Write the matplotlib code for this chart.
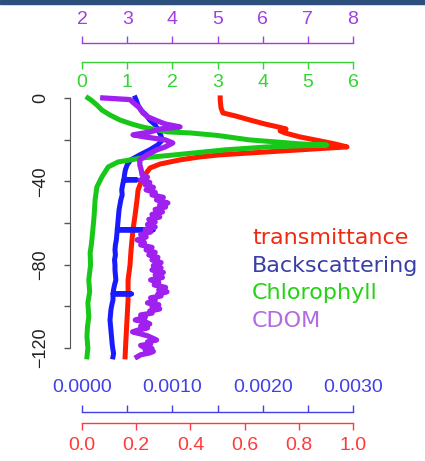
import numpy as np
import matplotlib
matplotlib.use('Agg')
from matplotlib import pyplot as plt
from matplotlib.patches import Rectangle

# profiles, depth in m (negative = down)
depth_trans = [0, -1.0, -4.8, -7.2, -8.6, -10.6, -12.5, -13.9, -14.9, -15.8, -16.8, -18.7,
               -20.6, -22.1, -23.5, -24.9, -26.4, -27.3, -28.3, -29.7, -31.7, -33.6, -36.9,
               -39.3, -44.1, -48.9, -56.1, -63.3, -72.9, -80.4, -87.3, -96.9, -106.5, -116.1, -124.2]
transmittance = [0.51, 0.51, 0.513, 0.52, 0.565, 0.62, 0.675, 0.723, 0.753, 0.731, 0.749, 0.804,
                 0.878, 0.934, 0.978, 0.804, 0.62, 0.509, 0.435, 0.362, 0.288, 0.251, 0.232,
                 0.221, 0.207, 0.203, 0.196, 0.188, 0.181, 0.177, 0.17, 0.17, 0.166, 0.162, 0.159]

depth_bb = [0, -1.0, -3.4, -5.8, -8.2, -10.6, -12.9, -15.3, -17.7, -20.1, -22.5, -24.9, -27.3,
            -29.7, -32.1, -34.5, -36.9, -39.0, -39.3, -39.6, -41.7, -44.1, -46.5, -48.9, -51.3,
            -53.7, -56.1, -58.5, -61.0, -63.1, -63.3, -63.5, -65.7, -68.1, -70.5, -72.9, -75.3,
            -77.7, -80.1, -82.5, -84.9, -87.3, -89.7, -91.8, -93.8, -94.0, -94.2, -96.9, -99.3,
            -101.7, -104.1, -106.5, -108.9, -111.3, -113.7, -116.1, -118.5, -120.9, -122.5, -124.2]
bb_e3 = [0.59, 0.60, 0.62, 0.65, 0.71, 0.75, 0.81, 0.84, 0.87, 0.89, 0.84, 0.75, 0.64,
         0.54, 0.50, 0.48, 0.47, 0.465, 0.61, 0.46, 0.45, 0.44, 0.445, 0.43, 0.42,
         0.41, 0.405, 0.40, 0.395, 0.39, 0.79, 0.39, 0.385, 0.38, 0.37, 0.365, 0.37,
         0.36, 0.365, 0.365, 0.37, 0.375, 0.36, 0.35, 0.343, 0.55, 0.343, 0.343, 0.33,
         0.32, 0.315, 0.31, 0.315, 0.32, 0.325, 0.33, 0.335, 0.343, 0.35, 0.343]
backscatter = np.array(bb_e3) * 1e-3

depth_chl = [0, -1.0, -3.4, -5.8, -8.2, -10.6, -12.5, -13.9, -16.3, -16.8, -18.0, -20.1, -22.0,
             -22.6, -23.5, -24.9, -26.1, -27.3, -28.8, -30.7, -33.1, -37.9, -42.7, -48.9, -56.1,
             -63.3, -70.0, -74.3, -80.0, -87.3, -93.0, -98.3, -105.0, -110.0, -114.6, -120.0, -124.2]
chlorophyll = [0.13, 0.2, 0.33, 0.44, 0.62, 0.84, 1.1, 1.33, 1.9, 2.4, 3.0, 3.7, 4.8,
               5.42, 4.1, 3.17, 2.61, 2.06, 1.33, 0.8, 0.58, 0.44, 0.33, 0.29, 0.27,
               0.24, 0.21, 0.18, 0.19, 0.15, 0.17, 0.13, 0.15, 0.12, 0.11, 0.13, 0.11]

depth_cdom = [0, -0.8, -2.9, -4.8, -7.2, -9.1, -10.6, -12.5, -13.9, -14.9,
              -16.3, -17.7, -18.7, -20.1, -21.6, -23.5, -24.9, -27.3, -29.7, -32.1,
              -34.5,
              -36.9, -38.0, -39.3, -40.5, -41.7, -42.9, -44.1, -45.3, -46.5, -47.7,
              -48.9, -50.4, -51.3, -52.3, -53.5, -54.7, -55.9, -57.1, -58.3, -59.5,
              -60.7, -61.9, -63.1, -64.3, -65.5, -66.7, -68.1, -69.3, -70.5, -71.7,
              -72.9, -74.1, -75.3, -76.5, -77.7, -79.0, -80.4, -81.5, -82.5, -83.7,
              -84.9, -86.1, -87.3, -88.5, -89.7, -90.9, -92.1, -93.0, -94.0, -95.0,
              -95.9, -97.1, -98.3, -99.2, -100.2, -101.2, -102.2, -103.2, -104.1, -105.3,
              -106.5, -107.4, -108.4, -109.4, -110.3, -111.3, -112.2, -113.2, -114.1, -115.1,
              -116.1, -117.0, -118.0, -118.7, -119.4, -120.2, -120.9, -121.6, -122.3, -123.2,
              -124.2]
cdom = [2.46, 3.06, 3.17, 3.28, 3.35, 3.46, 3.62, 3.84, 4.17, 3.73,
        3.51, 3.13, 3.39, 3.84, 4.01, 3.84, 3.66, 3.44, 3.28, 3.28,
        3.31,
        3.33, 3.45, 3.30, 3.50, 3.40, 3.58, 3.42, 3.62, 3.55, 3.80,
        3.65, 3.90, 3.72, 3.85, 3.62, 3.78, 3.55, 3.72, 3.48, 3.62,
        3.45, 3.62, 3.40, 3.52, 3.30, 3.42, 3.22, 3.38, 3.30, 3.55,
        3.42, 3.62, 3.48, 3.68, 3.55, 3.75, 3.58, 3.75, 3.55, 3.80,
        3.62, 3.78, 3.52, 3.70, 3.60, 3.85, 3.70, 3.88, 3.68, 3.75,
        3.52, 3.62, 3.45, 3.70, 3.55, 3.72, 3.50, 3.55, 3.30, 3.40,
        3.18, 3.40, 3.50, 3.30, 3.45, 3.25, 3.12, 3.30, 3.45, 3.55,
        3.65, 3.45, 3.52, 3.30, 3.35, 3.55, 3.40, 3.58, 3.50, 3.30,
        3.22]

depth_ticks = [-120, -100, -80, -60, -40, -20, 0]
depth_labels = ['\u2212120', '', '\u221280', '', '\u221240', '', '0']
trans_ticks = [0.0, 0.2, 0.4, 0.6, 0.8, 1.0]
trans_labels = ['0.0', '0.2', '0.4', '0.6', '0.8', '1.0']
bb_ticks = [0.0, 0.0005, 0.001, 0.0015, 0.002, 0.0025, 0.003]
bb_labels = ['0.0000', '', '0.0010', '', '0.0020', '', '0.0030']
chl_ticks = [0, 1, 2, 3, 4, 5, 6]
cdom_ticks = [2, 3, 4, 5, 6, 7, 8]

names = ['transmittance', 'Backscattering', 'Chlorophyll', 'CDOM']
name_colors = ['#ee2a10', '#3a3fa8', '#22d411', '#b46ae0']

plt.rcParams['font.family'] = ['Liberation Sans', 'DejaVu Sans']

fig = plt.figure(figsize=(4.25, 4.61), dpi=100)
fig.patches.append(Rectangle((0, 1 - 4 / 461), 1, 4 / 461, transform=fig.transFigure,
                             color='#2d4f7c', zorder=5))

ax = fig.add_axes([82 / 425, 1 - 360 / 461, 271 / 425, 270 / 461])
ax_bb = ax.twiny()
ax_chl = ax.twiny()
ax_cdom = ax.twiny()


def style_x(a, color, side, pos, ticks, labels, pad):
    for s in a.spines.values():
        s.set_visible(False)
    a.xaxis.set_ticks_position(side)
    sp = a.spines[side]
    sp.set_visible(True)
    sp.set_position(('axes', pos))
    sp.set_bounds(ticks[0], ticks[-1])
    sp.set_color(color)
    sp.set_linewidth(1.0)
    a.set_xlim(ticks[0], ticks[-1])
    a.set_xticks(ticks)
    a.set_xticklabels(labels)
    a.tick_params(axis='x', colors=color, length=5, width=1, direction='out',
                  pad=pad, labelsize=14)
    a.patch.set_visible(False)


style_x(ax, '#ff3a3a', 'bottom', -0.232, trans_ticks, trans_labels, 5)
style_x(ax_bb, '#4040e8', 'top', -0.191, bb_ticks, bb_labels, 6)
style_x(ax_chl, '#33d433', 'bottom', 1.105, chl_ticks, [str(t) for t in chl_ticks], 4)
style_x(ax_cdom, '#a03ee0', 'top', 1.173, cdom_ticks, [str(t) for t in cdom_ticks], 6)

# depth axis, R style
ax.spines['left'].set_visible(True)
ax.spines['left'].set_position(('outward', 8.6))
ax.spines['left'].set_bounds(-120, 0)
ax.spines['left'].set_color('#555555')
ax.set_yticks(depth_ticks)
ax.set_yticklabels(depth_labels)
ax.tick_params(axis='y', length=4, width=1, color='#555555', labelcolor='#222222',
               labelsize=13, labelrotation=90, pad=11)
for lab in ax.get_yticklabels():
    lab.set_va('center')
ax.set_ylim(-125.7, 3.8)

ax_cdom.plot(cdom, depth_cdom, color='#a020f0', lw=3.8, solid_joinstyle='round', zorder=1)
ax.plot(transmittance, depth_trans, color='#ff1a00', lw=3.6, solid_joinstyle='round', zorder=2)
ax_bb.plot(backscatter, depth_bb, color='#1a1aff', lw=3.6, solid_joinstyle='round', zorder=3)
ax_chl.plot(chlorophyll, depth_chl, color='#18c818', lw=3.6, solid_joinstyle='round', zorder=4)

for i, (n, c) in enumerate(zip(names, name_colors)):
    fig.text(252 / 425, 1 - (238 + 27.7 * i) / 461, n, color=c, fontsize=16,
             family='DejaVu Sans', ha='left', va='center')

fig.savefig('out.png', dpi=100)
